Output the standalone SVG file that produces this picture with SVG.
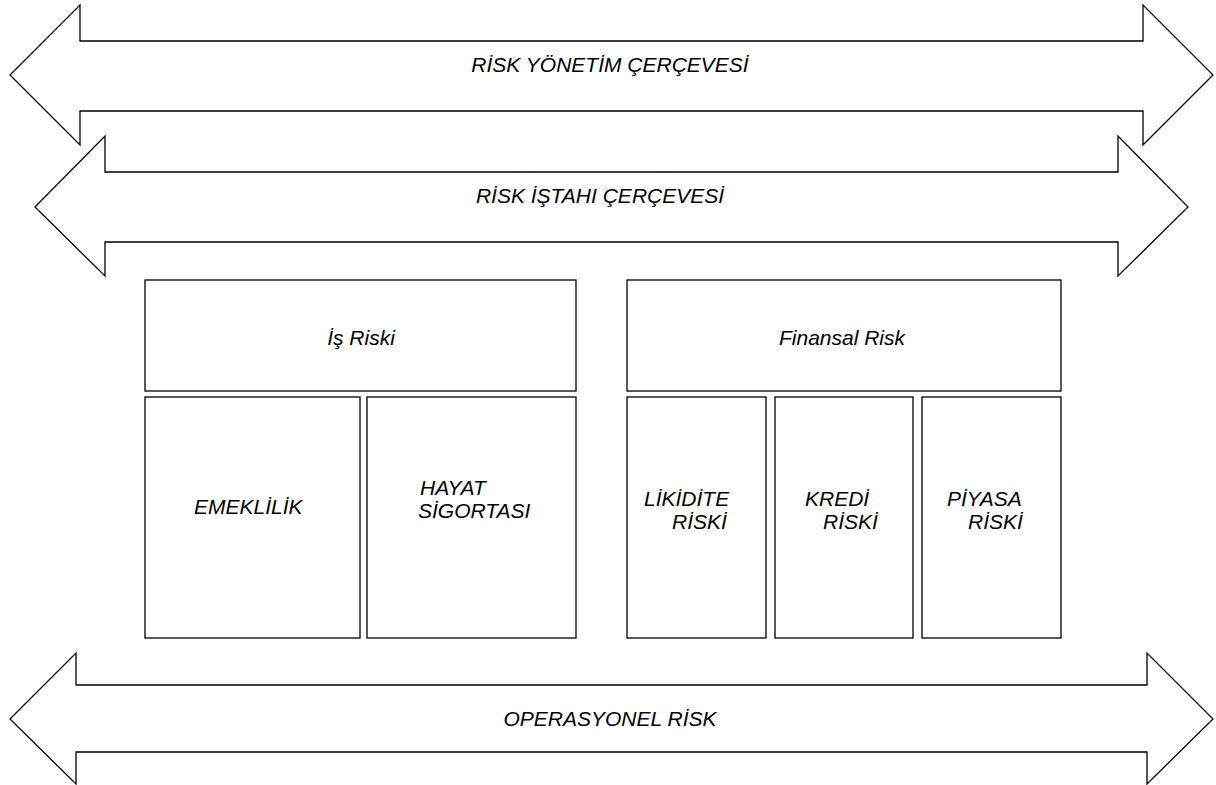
<svg xmlns="http://www.w3.org/2000/svg" width="1216" height="785" viewBox="0 0 1216 785">
<style>
.arr{fill:#fff;stroke:#000;stroke-width:1.3;stroke-linejoin:miter}
.box{fill:#fff;stroke:#000;stroke-width:1.3}
text{font-family:"Liberation Sans",Arial,sans-serif;font-style:italic;font-size:21px;fill:#000}
.c{text-anchor:middle}
</style>
<rect width="1216" height="785" fill="#fff"/>
<g id="connectors">
<g id="risk-yonetim">
<polygon class="arr" points="10,75 80,5 80,41 1143,41 1143,5 1213,75 1143,145 1143,111 80,111 80,145"/>
<text class="c" x="610" y="72">RİSK YÖNETİM ÇERÇEVESİ</text>
</g>
<g id="risk-istahi">
<polygon class="arr" points="35,207 105,136 105,172 1118,172 1118,136 1188,207 1118,276 1118,242 105,242 105,276"/>
<text class="c" x="600" y="203">RİSK İŞTAHI ÇERÇEVESİ</text>
</g>
<g id="operasyonel">
<polygon class="arr" points="10,719 76,653 76,685 1147,685 1147,653 1213,719 1147,784 1147,752 76,752 76,784"/>
<text class="c" x="610" y="726">OPERASYONEL RİSK</text>
</g>
</g>
<g id="is-riski"><rect class="box" x="145" y="280" width="431" height="111"/><text class="c" x="361" y="345">İş Riski</text></g>
<g id="finansal-risk"><rect class="box" x="627" y="280" width="434" height="111"/><text class="c" x="842" y="345">Finansal Risk</text></g>
<g id="emeklilik"><rect class="box" x="145" y="397" width="215" height="241"/><text x="194" y="514">EMEKLİLİK</text></g>
<g id="hayat"><rect class="box" x="367" y="397" width="209" height="241"/><text x="420" y="495">HAYAT</text><text x="418" y="518">SİGORTASI</text></g>
<g id="likidite"><rect class="box" x="627" y="397" width="139" height="241"/><text x="644" y="506">LİKİDİTE</text><text x="672" y="529">RİSKİ</text></g>
<g id="kredi"><rect class="box" x="775" y="397" width="138" height="241"/><text x="805" y="506">KREDİ</text><text x="823" y="529">RİSKİ</text></g>
<g id="piyasa"><rect class="box" x="922" y="397" width="139" height="241"/><text x="947" y="506">PİYASA</text><text x="968" y="529">RİSKİ</text></g>
</svg>
